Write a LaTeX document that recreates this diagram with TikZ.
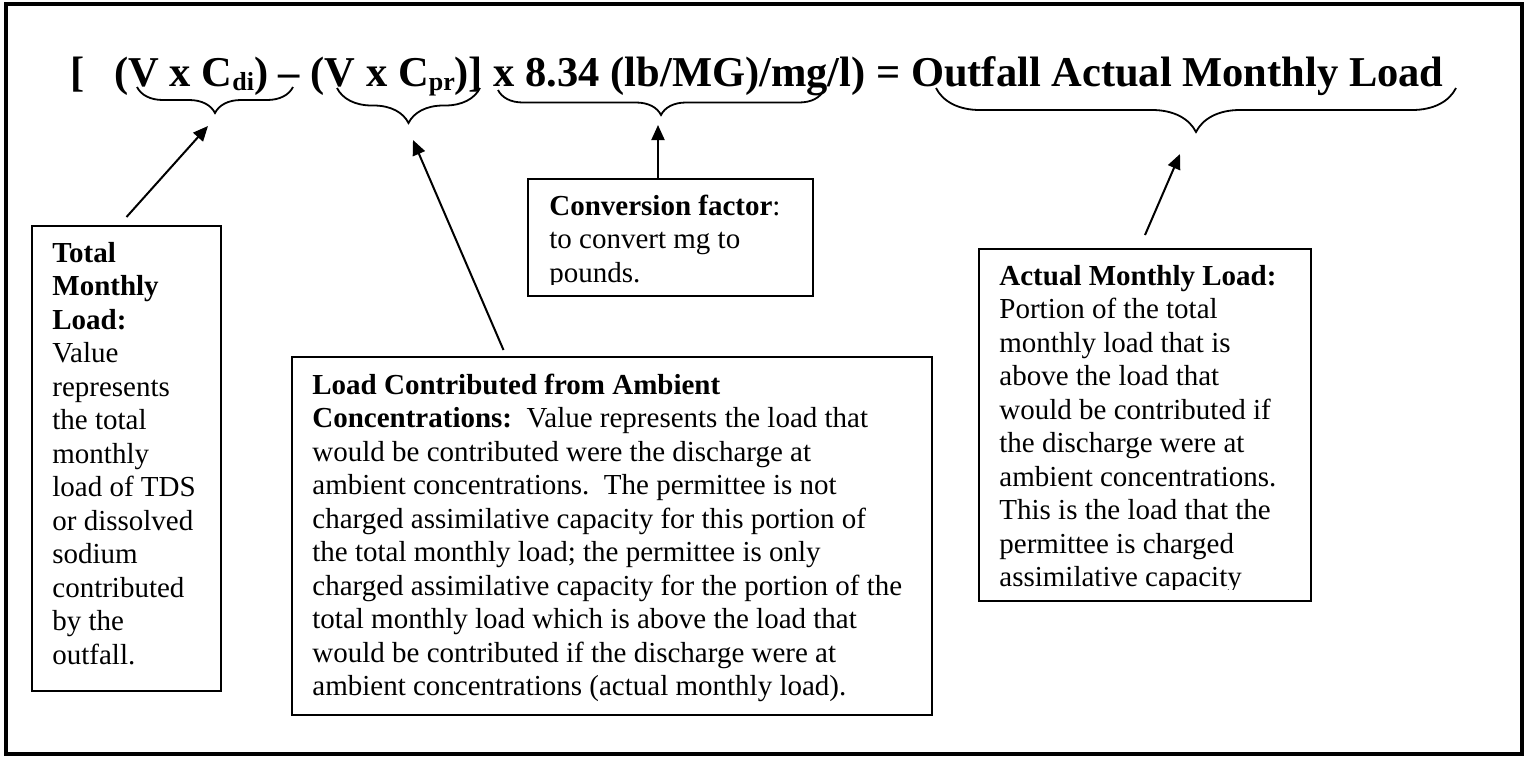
\documentclass[tikz,border=0pt]{standalone}
\usepackage{fontspec}
\setmainfont{Liberation Serif}
\usetikzlibrary{arrows.meta,decorations.pathreplacing,calc}
\newcommand\sbs[1]{\raisebox{-2pt}{\fontsize{13pt}{13pt}\selectfont #1}}
\begin{document}
\begin{tikzpicture}[x=0.5pt,y=-0.5pt,
  frame/.style={draw, line width=2pt},
  box/.style={draw, line width=1pt, anchor=north west, inner sep=0pt},
  txt/.style={anchor=base west, inner sep=0pt, font=\fontsize{14.5pt}{16.75pt}\selectfont},
  eq/.style={anchor=base west, inner sep=0pt, font=\fontsize{21.25pt}{24pt}\selectfont\bfseries},
  arr/.style={line width=1pt, -{Triangle[length=7.5pt,width=6.5pt]}},
  curly/.style={line width=0.9pt, decorate, decoration={brace, mirror, amplitude=#1}}
]
\useasboundingbox (0,0) rectangle (1528,757);
\draw[frame] (6,3.5) rectangle (1522,754);

% equation
\node[eq] (lb) at (70,86) {[};
\node[eq] (eqn) at (114,86) {(V x C\sbs{di}) – (V x C\sbs{pr})] x 8.34 (lb/MG)/mg/l) = Outfall Actual Monthly Load};

% braces
\draw[curly=13pt] (137,87) -- (293,87);
\draw[curly=17.5pt] (337,88) -- (480,88);
\draw[curly=12.5pt] (498,90) -- (824,90);
\draw[curly=22pt] (936,88) -- (1456,88);

% arrow end points (below brace tips)
\coordinate (e1) at (208,126);
\coordinate (e2) at (413,140);
\coordinate (e3) at (658,125);
\coordinate (e4) at (1180,154);

% box 1
\node[box, minimum width=94.5pt, minimum height=232.5pt] (b1) at (31,225) {};
\node[txt] (t1) at (52,262) {\parbox[t]{100pt}{\raggedright
\textbf{Total}\\ \textbf{Monthly}\\ \textbf{Load:}\\ Value\\ represents\\ the total\\ monthly\\ load of TDS\\ or dissolved\\ sodium\\ contributed\\ by the\\ outfall.}};

% box 2
\node[box, minimum width=320pt, minimum height=179pt] (b2) at (291,356) {};
\node[txt] (t2) at (312,394) {\parbox[t]{310pt}{\raggedright
\textbf{Load Contributed from Ambient}\\
\textbf{Concentrations:}\ \ Value represents the load that\\
would be contributed were the discharge at\\
ambient concentrations.\ \ The permittee is not\\
charged assimilative capacity for this portion of\\
the total monthly load; the permittee is only\\
charged assimilative capacity for the portion of the\\
total monthly load which is above the load that\\
would be contributed if the discharge were at\\
ambient concentrations (actual monthly load).}};

% box 3
\node[box, minimum width=142.5pt, minimum height=58.5pt] (b3) at (527,178) {};
\begin{scope}
\clip (527,178) rectangle (812,284);
\node[txt] (t3) at (549,215) {\parbox[t]{140pt}{\raggedright
\textbf{Conversion factor}:\\ to convert mg to\\ pounds.}};
\end{scope}

% box 4
\node[box, minimum width=166pt, minimum height=176pt] (b4) at (978,248) {};
\begin{scope}
\clip (978,248) rectangle (1310,589);
\node[txt] (t4) at (999,285) {\parbox[t]{160pt}{\raggedright
\textbf{Actual Monthly Load:}\\ Portion of the total\\ monthly load that is\\ above the load that\\ would be contributed if\\ the discharge were at\\ ambient concentrations.\\ This is the load that the\\ permittee is charged\\ assimilative capacity}};
\end{scope}

% arrows
\draw[arr] ($(b1.north)+(0,-8)$) -- (e1);
\draw[arr] ($(b2.north west)!0.331!(b2.north east)+(0,-6)$) -- (e2);
\draw[arr] (e3 |- b3.north) -- (e3);
\draw[arr] ($(b4.north)+(0,-13)$) -- (e4);
\end{tikzpicture}
\end{document}
